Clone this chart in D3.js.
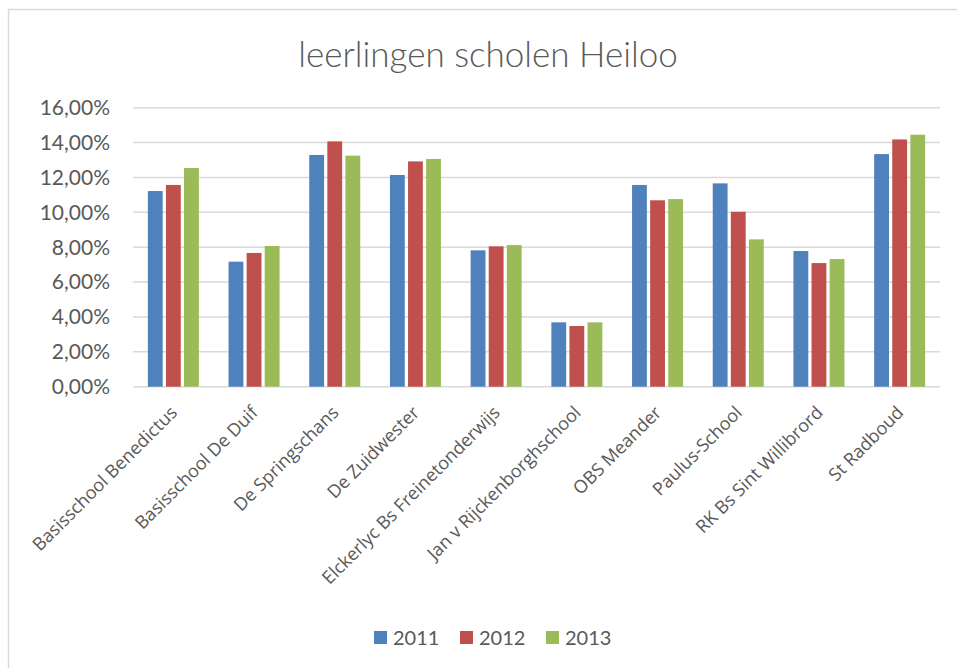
<!DOCTYPE html>
<html lang='en'>
<head>
    <title>leerlingen scholen Heiloo</title>
    <meta charset='UTF-8'>
    <script src='https://d3js.org/d3.v7.min.js'></script>
    <style>
      body { margin: 0; background: #fff; }
      svg { display: block; }
    </style>
</head>
<body>
<svg width='957' height='668'></svg>

<script>
  // data (share of pupils per school)
  const schools = ['Basisschool Benedictus', 'Basisschool De Duif', 'De Springschans', 'De Zuidwester',
    'Elckerlyc Bs Freinetonderwijs', 'Jan v Rijckenborghschool', 'OBS Meander', 'Paulus-School',
    'RK Bs Sint Willibrord', 'St Radboud']
  const years = ['2011', '2012', '2013']
  const v2011 = [11.22, 7.17, 13.29, 12.14, 7.82, 3.69, 11.57, 11.66, 7.78, 13.34]
  const v2012 = [11.57, 7.67, 14.07, 12.92, 8.05, 3.48, 10.69, 10.03, 7.09, 14.18]
  const v2013 = [12.54, 8.07, 13.25, 13.06, 8.12, 3.69, 10.76, 8.45, 7.32, 14.45]
  const yTicks = [0, 2, 4, 6, 8, 10, 12, 14, 16]
  const colors = ['#4f81bd', '#c0504d', '#9bbb59']

  const series = [v2011, v2012, v2013]
  const rows = schools.map((s, i) => ({ school: s, vals: years.map((y, j) => ({ year: y, v: series[j][i] })) }))

  const svg = d3.select('svg')
  const textColor = '#595959'

  // chart frame (runs off the right and bottom edge)
  svg.append('rect')
    .attr('x', 8.5).attr('y', 9.5)
    .attr('width', 980).attr('height', 700)
    .attr('fill', 'none')
    .attr('stroke', '#d9d9d9')
    .attr('stroke-width', 1.5)

  svg.append('text')
    .attr('x', 488).attr('y', 67)
    .attr('text-anchor', 'middle')
    .style('font-family', 'Lato, sans-serif')
    .style('font-weight', 300)
    .style('font-size', '35px')
    .style('fill', textColor)
    .text('leerlingen scholen Heiloo')

  const plotL = 133, plotR = 940, plotT = 107.7, plotB = 386.7

  const x0 = d3.scaleBand().domain(schools).range([plotL, plotR])
  const groupW = 51
  const x1 = d3.scaleBand().domain(years).range([0, groupW]).paddingInner(0.18)
  const y = d3.scaleLinear().domain([0, 16]).range([plotB, plotT])

  // gridlines
  svg.append('g')
    .selectAll('line')
    .data(yTicks).enter()
    .append('line')
      .attr('x1', plotL).attr('x2', plotR)
      .attr('y1', d => y(d)).attr('y2', d => y(d))
      .attr('stroke', '#d9d9d9')
      .attr('stroke-width', 1.5)

  // y labels
  svg.append('g')
    .selectAll('text')
    .data(yTicks).enter()
    .append('text')
      .attr('x', 110)
      .attr('y', d => y(d))
      .attr('dy', '0.35em')
      .attr('text-anchor', 'end')
      .style('font-family', 'Lato, sans-serif')
      .style('font-size', '21px')
      .style('fill', textColor)
      .text(d => d.toFixed(2).replace('.', ',') + '%')

  // bars
  const groups = svg.append('g')
    .selectAll('g')
    .data(rows).enter()
    .append('g')
      .attr('transform', d => `translate(${x0(d.school) + (x0.bandwidth() - groupW) / 2},0)`)

  groups.selectAll('rect')
    .data(d => d.vals).enter()
    .append('rect')
      .attr('x', d => x1(d.year))
      .attr('width', x1.bandwidth())
      .attr('y', d => y(d.v))
      .attr('height', d => y(0) - y(d.v))
      .attr('fill', (d, i) => colors[i])

  // x labels
  svg.append('g')
    .selectAll('text')
    .data(schools).enter()
    .append('text')
      .attr('transform', d => `translate(${x0(d) + x0.bandwidth() / 2 + 5},${plotB + 27}) rotate(-45)`)
      .attr('text-anchor', 'end')
      .style('font-family', "'Open Sans', sans-serif")
      .style('font-size', '18px')
      .style('fill', textColor)
      .text(d => d)

  // legend
  const legX = [374, 460, 546]
  const leg = svg.append('g')
    .selectAll('g')
    .data(years).enter()
    .append('g')
      .attr('transform', (d, i) => `translate(${legX[i]},631)`)
  leg.append('rect')
    .attr('width', 13).attr('height', 13)
    .attr('fill', (d, i) => colors[i])
  leg.append('text')
    .attr('x', 19).attr('y', 13.5)
    .style('font-family', 'Lato, sans-serif')
    .style('font-size', '20px')
    .style('fill', textColor)
    .text(d => d)
</script>
</body>
</html>
